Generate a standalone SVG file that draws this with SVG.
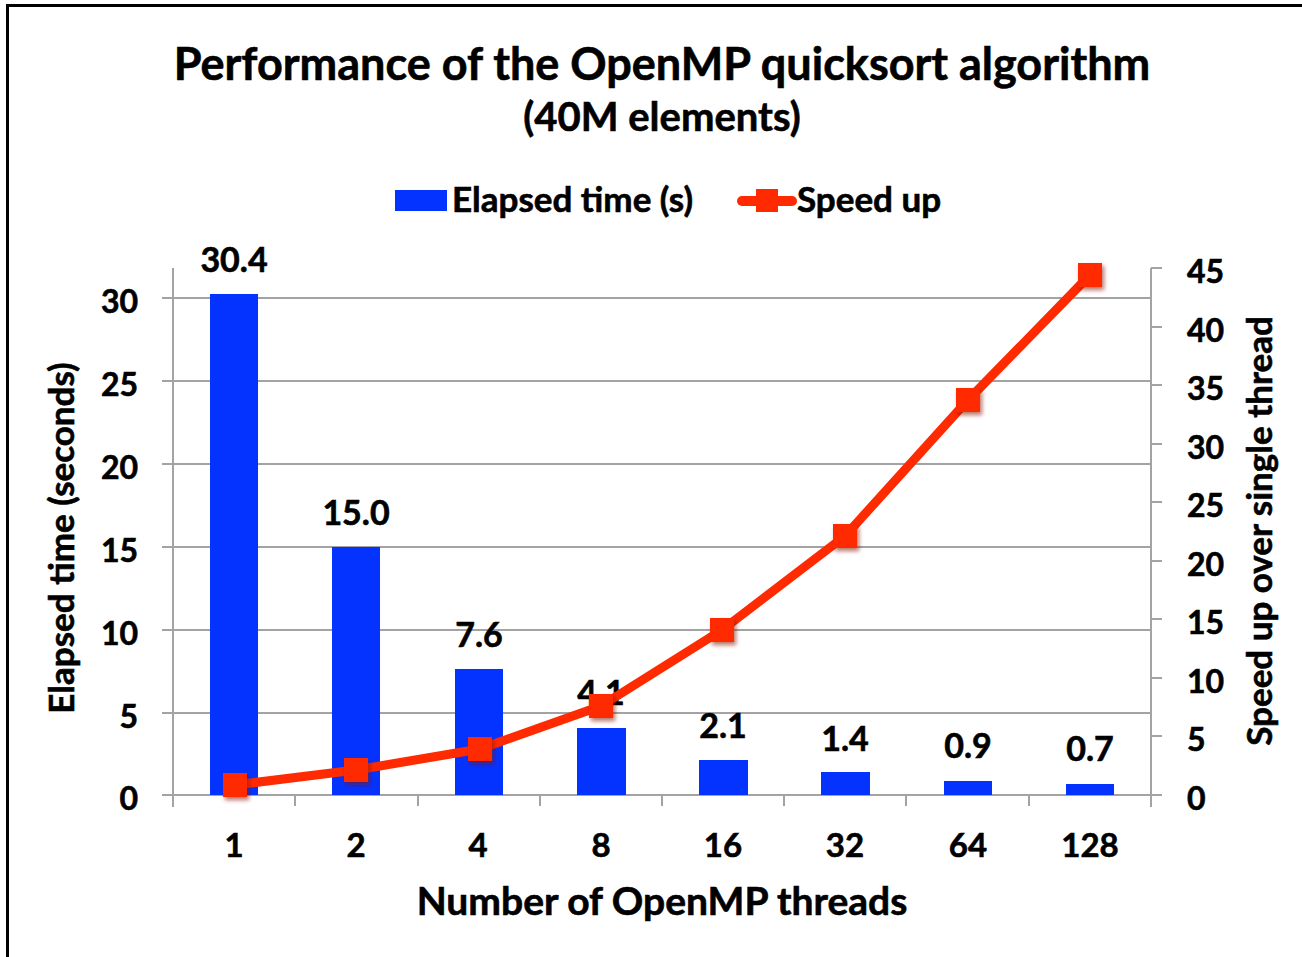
<svg xmlns="http://www.w3.org/2000/svg" width="1302" height="957" viewBox="0 0 1302 957">
<defs>
<style>
text{font-family:Lato,"Open Sans","Liberation Sans",sans-serif;font-weight:bold;fill:#000;stroke:#000;stroke-width:0.6}
.title{font-size:45px;text-anchor:middle}
.sub{font-size:40px;text-anchor:middle}
.leg{font-size:35px}
.tick{font-size:32px}
.cat{font-size:33px;text-anchor:middle}
.tl{text-anchor:end}
.val{font-size:34px;text-anchor:middle}
.axt{font-size:35px;text-anchor:middle}
.xt{font-size:39px;text-anchor:middle}
.grid{stroke:#a3a3a3;stroke-width:2;fill:none}
.bar{fill:#0433ff}
.spd{stroke:#ff2a00;stroke-width:9;fill:none;stroke-linejoin:round;stroke-linecap:round}
.mk{fill:#ff2a00;filter:url(#sh)}
</style>
<filter id="sh" x="-40%" y="-40%" width="200%" height="200%">
<feDropShadow dx="2" dy="3" stdDeviation="2" flood-color="#8a1000" flood-opacity="0.6"/>
</filter>
</defs>
<rect x="0" y="0" width="1302" height="957" fill="#fff"/>
<path d="M7.5,957 V5.5 H1302" stroke="#000" stroke-width="3" fill="none"/>

<g id="title">
<text class="title" x="662" y="80">Performance of the OpenMP quicksort algorithm</text>
<text class="sub" x="662" y="131">(40M elements)</text>
</g>

<g id="legend">
<rect class="bar" x="395" y="190" width="52" height="21"/>
<text class="leg" x="452" y="212">Elapsed time (s)</text>
<line x1="742" y1="201" x2="792" y2="201" stroke="#ff2a00" stroke-width="10" stroke-linecap="round"/>
<rect x="756" y="189" width="22" height="23" fill="#ff2a00"/>
<text class="leg" x="797" y="212">Speed up</text>
</g>

<g id="axes">
<g class="grid">
<line x1="173" y1="298" x2="1151" y2="298"/>
<line x1="173" y1="381" x2="1151" y2="381"/>
<line x1="173" y1="464" x2="1151" y2="464"/>
<line x1="173" y1="547" x2="1151" y2="547"/>
<line x1="173" y1="630" x2="1151" y2="630"/>
<line x1="173" y1="713" x2="1151" y2="713"/>
<line x1="173" y1="795" x2="1151" y2="795"/>
<line x1="173" y1="268" x2="173" y2="807"/>
<line x1="1151" y1="268" x2="1151" y2="807"/>
<path d="M162,298H173M162,381H173M162,464H173M162,547H173M162,630H173M162,713H173M162,795H173"/>
<path d="M1151,268H1162M1151,327H1162M1151,385H1162M1151,444H1162M1151,502H1162M1151,561H1162M1151,619H1162M1151,678H1162M1151,736H1162M1151,795H1162"/>
<path d="M295,795V806M418,795V806M540,795V806M662,795V806M784,795V806M906,795V806M1029,795V806"/>
</g>
<g class="tick tl">
<text x="138" y="313">30</text>
<text x="138" y="396">25</text>
<text x="138" y="479">20</text>
<text x="138" y="562">15</text>
<text x="138" y="645">10</text>
<text x="138" y="728">5</text>
<text x="138" y="810">0</text>
</g>
<g class="tick">
<text x="1187" y="283">45</text>
<text x="1187" y="342">40</text>
<text x="1187" y="400">35</text>
<text x="1187" y="459">30</text>
<text x="1187" y="517">25</text>
<text x="1187" y="576">20</text>
<text x="1187" y="634">15</text>
<text x="1187" y="693">10</text>
<text x="1187" y="751">5</text>
<text x="1187" y="810">0</text>
</g>
<g class="cat">
<text x="234" y="857">1</text>
<text x="356" y="857">2</text>
<text x="478" y="857">4</text>
<text x="601" y="857">8</text>
<text x="723" y="857">16</text>
<text x="845" y="857">32</text>
<text x="968" y="857">64</text>
<text x="1090" y="857">128</text>
</g>
<text class="xt" x="662" y="915">Number of OpenMP threads</text>
<text class="axt" transform="translate(74,538) rotate(-90)">Elapsed time (seconds)</text>
<text class="axt" transform="translate(1272,531) rotate(-90)">Speed up over single thread</text>
</g>

<g id="bars">
<rect class="bar" x="210" y="294" width="48" height="501"/>
<rect class="bar" x="332" y="547" width="48" height="248"/>
<rect class="bar" x="455" y="669" width="48" height="126"/>
<rect class="bar" x="577" y="728" width="49" height="67"/>
<rect class="bar" x="699" y="760" width="49" height="35"/>
<rect class="bar" x="821" y="772" width="49" height="23"/>
<rect class="bar" x="944" y="781" width="48" height="14"/>
<rect class="bar" x="1066" y="784" width="48" height="11"/>
</g>

<g id="values" class="val">
<text x="234" y="272">30.4</text>
<text x="356" y="525">15.0</text>
<text x="479" y="647">7.6</text>
<text x="601" y="705">4.1</text>
<text x="723" y="738">2.1</text>
<text x="845" y="751">1.4</text>
<text x="968" y="758">0.9</text>
<text x="1090" y="761">0.7</text>
</g>

<g id="speedup">
<polyline class="spd" points="235,785 356,770 480,749 601,706 722,630 845,536 968,400 1090,275"/>
<g class="mk">
<rect x="223" y="773" width="24" height="24"/>
<rect x="344" y="758" width="24" height="24"/>
<rect x="468" y="737" width="24" height="24"/>
<rect x="589" y="694" width="24" height="24"/>
<rect x="710" y="618" width="24" height="24"/>
<rect x="833" y="524" width="24" height="24"/>
<rect x="956" y="388" width="24" height="24"/>
<rect x="1078" y="263" width="24" height="24"/>
</g>
</g>
</svg>
